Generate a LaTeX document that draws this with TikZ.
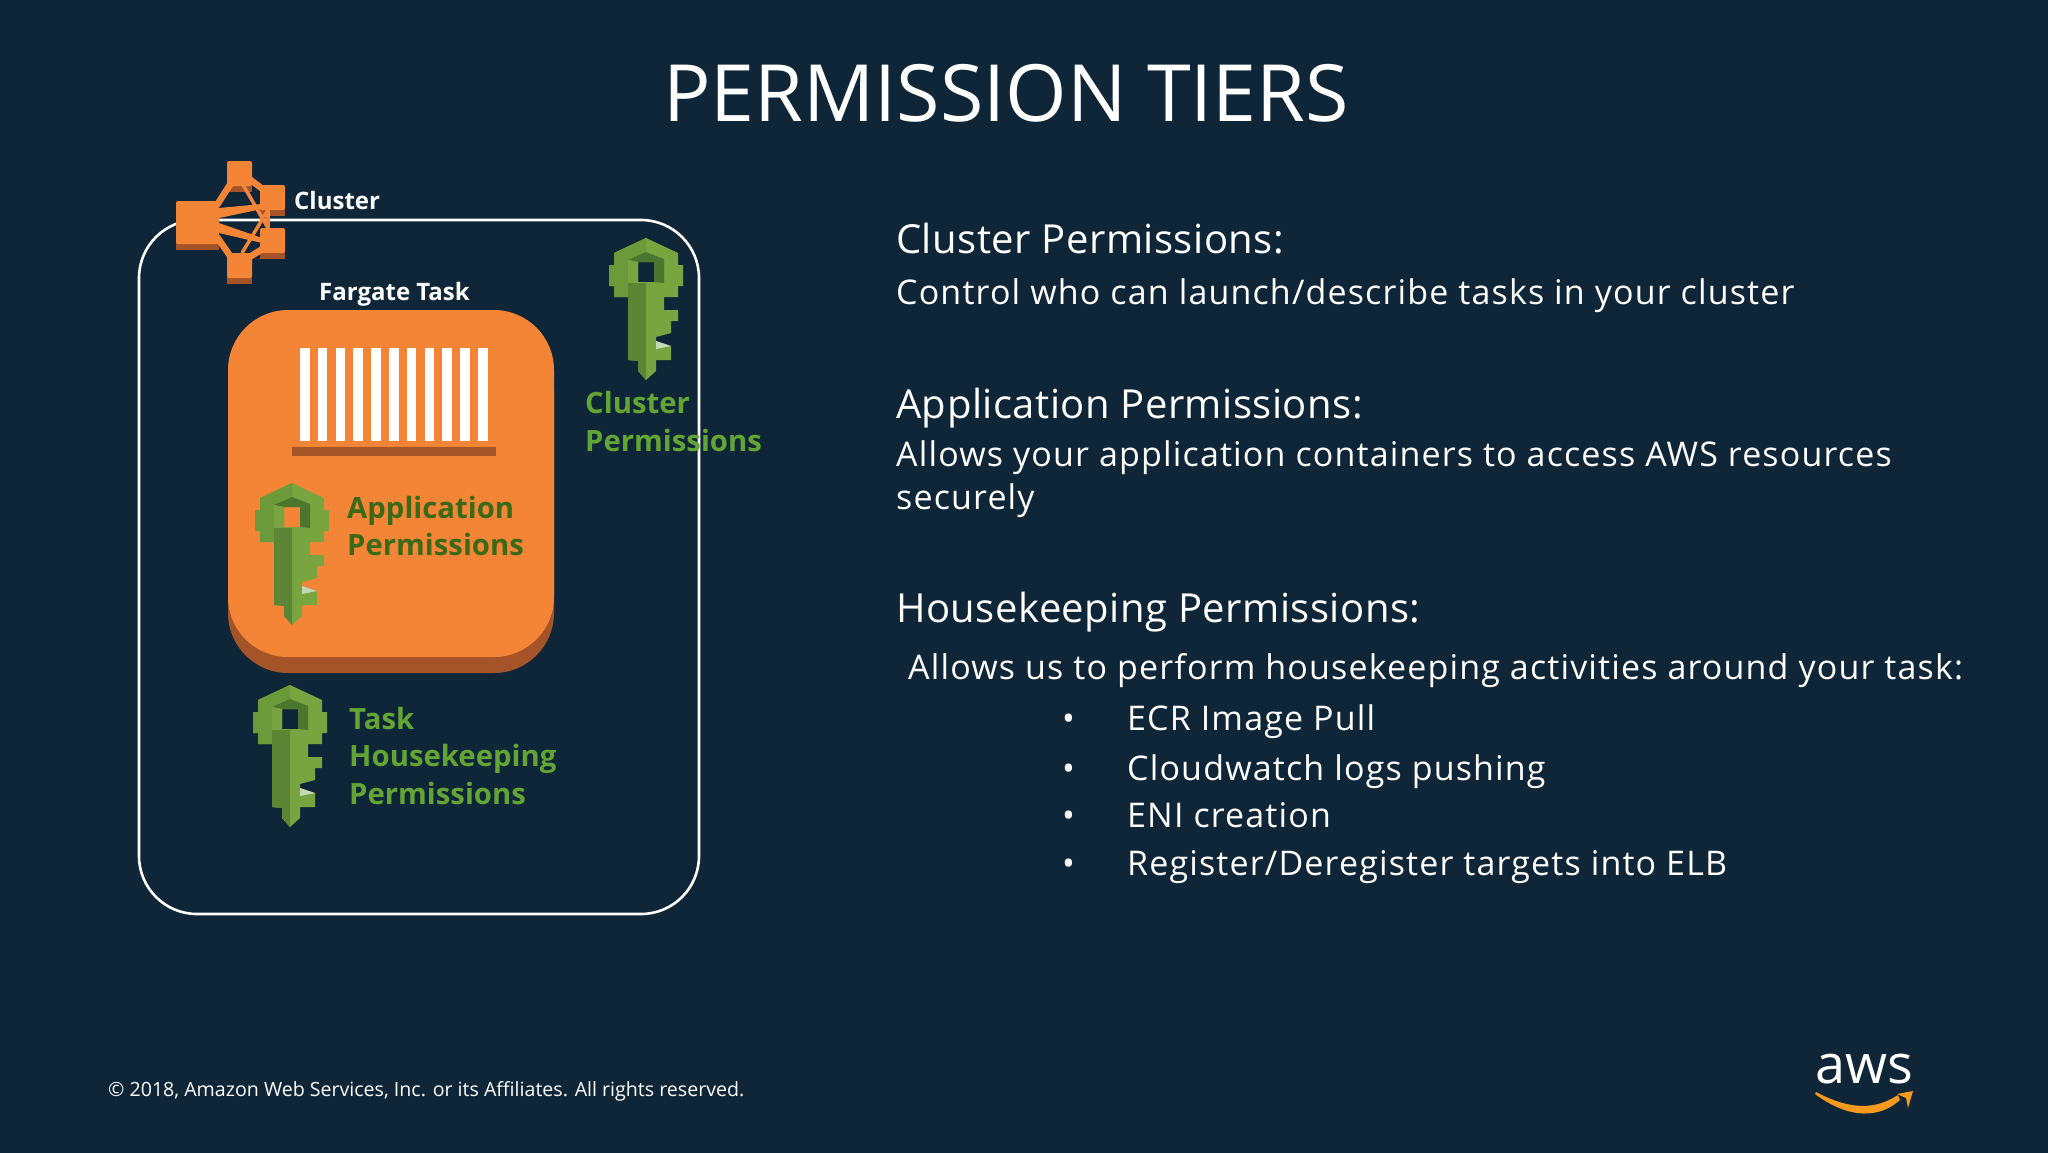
\documentclass[tikz,border=0pt]{standalone}
\usepackage{fontspec}
\setmainfont{Open Sans}
\newfontfamily\headfont[LetterSpace=1.2]{Open Sans}
\newfontfamily\bodyfont[LetterSpace=3.4]{Open Sans}
\usepackage{tikz}
\definecolor{slidebg}{HTML}{0F2638}
\definecolor{awsorange}{HTML}{F58536}
\definecolor{awsshade}{HTML}{A5542A}
\definecolor{keylight}{HTML}{78A53F}
\definecolor{keymid}{HTML}{6C993A}
\definecolor{keydark}{HTML}{5C8535}
\definecolor{keydeep}{HTML}{4C762E}
\definecolor{keypale}{HTML}{C4D9B6}
\definecolor{labelgreen}{HTML}{62A534}
\definecolor{labeldeep}{HTML}{3A6A17}
\definecolor{smile}{HTML}{F7991C}
\def\keyoutline{(0,0) -- (32,15) -- (32,27) -- (37,27) -- (37,48) -- (32,48) -- (32,59) -- (18,59) -- (18,72) -- (32,72) -- (32,83) -- (25,83) -- (25,95) -- (10,99) -- (10,103) -- (25,108) -- (25,122) -- (10,122) -- (10,133) -- (0,142) -- (-8,133) -- (-8,123) -- (-18,122) -- (-18,59) -- (-32,59) -- (-32,48) -- (-37,48) -- (-37,27) -- (-32,27) -- (-32,15) -- cycle}
\def\keyhole{(-8,24) rectangle (8,44)}
\tikzset{
    keyicon/.pic={
        \fill[keylight,even odd rule] \keyoutline \keyhole;
        \fill[keymid] (0,0) -- (-32,15) -- (-32,27) -- (-37,27) -- (-37,48) -- (-32,48) -- (-32,59) -- (-18,59) -- (-18,45) -- (-18,22) -- (0,14) -- cycle;
        \fill[keydark] (-18,45) -- (0,45) -- (0,142) -- (-8,133) -- (-8,123) -- (-18,122) -- cycle;
        \fill[keydeep] (-18,22) -- (0,14) -- (18,21) -- (8,24) -- (-8,24) -- cycle;
        \fill[keylight] (-18,22) -- (-8,24) -- (-8,44) -- (-18,45) -- cycle;
        \fill[keydeep] (18,21) -- (8,24) -- (8,44) -- (18,45) -- cycle;
        \fill[keypale] (10,103) -- (25,108) -- (10,111) -- cycle;
    },
    slidetitle/.style={text=white,inner sep=0pt,anchor=base,font=\fontsize{79}{79}\selectfont},
    headtext/.style={text=white,inner sep=0pt,anchor=base west,font=\headfont\fontsize{40}{40}\selectfont},
    bodytext/.style={text=white,inner sep=0pt,anchor=base west,font=\bodyfont\fontsize{34}{34}\selectfont},
    tiertext/.style={inner sep=0pt,anchor=base west,font=\fontsize{29.3}{29.3}\selectfont\bfseries},
    tasktext/.style={text=white,inner sep=0pt,anchor=base west,font=\fontsize{24}{24}\selectfont\bfseries},
    iconlink/.style={awsorange,line width=3.5pt},
    iconedge/.style={awsorange,line width=6.5pt},
}
\begin{document}
\begin{tikzpicture}[x=1pt,y=-1pt]
    \useasboundingbox (0,0) rectangle (2048,1152);
    \fill[slidebg] (-3,-3) rectangle (2051,1155);
    \node[slidetitle] (title) at (1006,121) {PERMISSION TIERS};
    % outer cluster box
    \draw[white,line width=2.6pt,rounded corners=58pt] (139,220) rectangle (699,914);
    % cluster icon
    \foreach \x/\y/\w in {176/201/43,227/161/25,227/253/25,260/185/25,260/228/25} {
        \fill[awsshade] (\x,\y+6) rectangle +(\w,\w);
    }
    \fill[awsorange] (219,208) -- (219,218) -- (262,209) -- (262,204) -- cycle;
    \fill[awsorange] (219,223) -- (219,233) -- (262,243) -- (262,238) -- cycle;
    \draw[iconedge] (217,205) -- (233,180);
    \draw[iconedge] (217,237) -- (233,260);
    \draw[iconlink] (242,183) -- (268,228);
    \draw[iconlink] (242,253) -- (268,210);
    \draw[iconedge] (248,178) -- (264,190);
    \draw[iconedge] (248,258) -- (264,248);
    \draw[iconlink] (268,210) -- (268,228);
    \foreach \x/\y/\w in {176/201/43,227/161/25,227/253/25,260/185/25,260/228/25} {
        \fill[awsorange,rounded corners=2pt] (\x,\y) rectangle +(\w,\w);
    }
    % fargate task
    \fill[awsshade,rounded corners=60pt] (228,330) rectangle (554,673);
    \fill[awsorange,rounded corners=60pt] (228,310) rectangle (554,657);
    \foreach \i in {0,...,10} {
        \fill[white] (300+\i*17.8,348) rectangle +(9.5,93);
    }
    \fill[awsshade] (292,447) rectangle (496,456);
    % keys
    \pic at (646,238) {keyicon};
    \pic at (292,483) {keyicon};
    \pic at (290,685) {keyicon};
    % labels
    \node[tasktext] (clusterlabel) at (294,209) {Cluster};
    \node[tasktext] (tasklabel) at (319,300) {Fargate Task};
    \node[text=labelgreen,tiertext] (clusterperm) at (585,413) {Cluster};
    \node[text=labelgreen,tiertext] (clusterpermb) at (585,451) {Permissions};
    \node[text=labeldeep,tiertext] (appperm) at (347,518) {Application};
    \node[text=labeldeep,tiertext] (apppermb) at (347,555) {Permissions};
    \node[text=labelgreen,tiertext] (houseperm) at (349,729) {Task};
    \node[text=labelgreen,tiertext] (housepermb) at (349,766) {Housekeeping};
    \node[text=labelgreen,tiertext] (housepermc) at (349,804) {Permissions};
    % right column
    \node[headtext] (clusterhead) at (896,253) {Cluster Permissions:};
    \node[bodytext] (clusterbody) at (896,304) {Control who can launch/describe tasks in your cluster};
    \node[headtext] (apphead) at (896,418) {Application Permissions:};
    \node[bodytext] (appbody) at (896,466) {Allows your application containers to access AWS resources};
    \node[bodytext] (appbodyb) at (896,509) {securely};
    \node[headtext] (househead) at (896,622) {Housekeeping Permissions:};
    \node[bodytext] (housebody) at (908,679) {Allows us to perform housekeeping activities around your task:};
    \foreach \n/\y/\t in {a/730/{ECR Image Pull},b/780/{Cloudwatch logs pushing},c/827/{ENI creation},d/875/{Register/Deregister targets into ELB}} {
        \node[bodytext] (dot\n) at (1062,\y) {•};
        \node[bodytext] (item\n) at (1127,\y) {\t};
    }
    % footer
    \node[text=white,inner sep=0pt,anchor=base west,font=\fontsize{19.6}{19.6}\selectfont] (footer) at (108,1096) {© 2018, Amazon Web Services, Inc. or its Affiliates. All rights reserved.};
    \node[text=white,inner sep=0pt,anchor=base,font=\fontsize{54}{54}\selectfont] (awsmark) at (1864,1083) {aws};
    \fill[smile] (1815,1094) .. controls (1850,1120) and (1880,1118) .. (1900,1100) -- (1898,1095) .. controls (1875,1110) and (1850,1110) .. (1816,1092) -- cycle;
    \fill[smile] (1897,1094) -- (1913,1091) -- (1908,1108) -- (1906,1098) -- cycle;
\end{tikzpicture}
\end{document}
